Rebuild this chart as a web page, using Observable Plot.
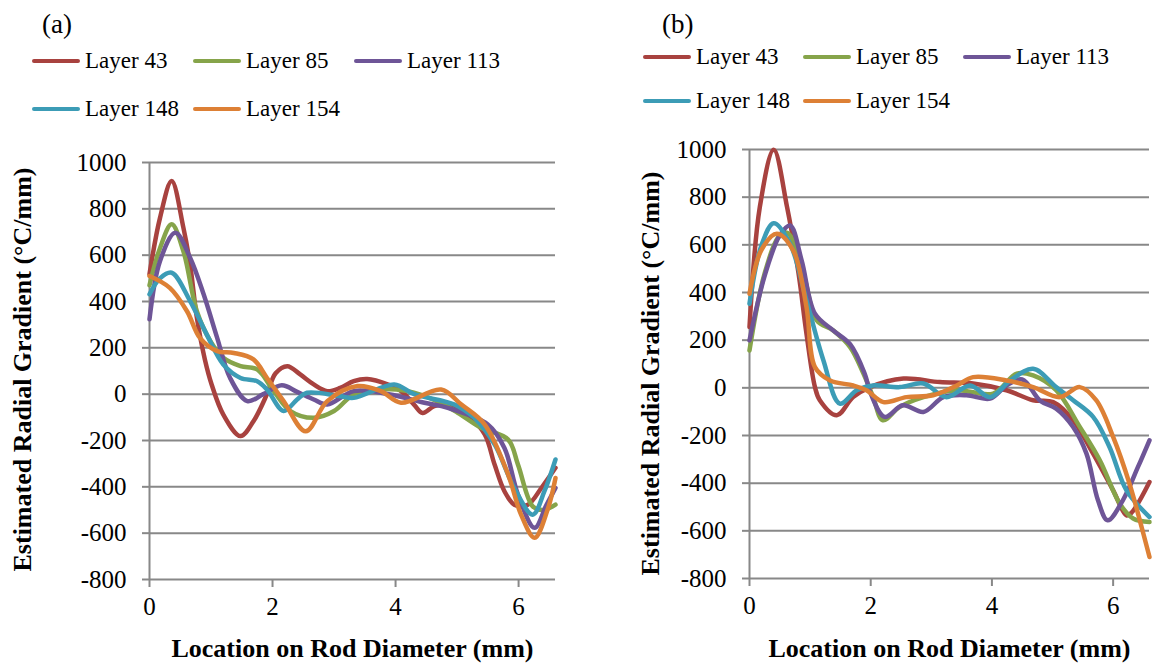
<!DOCTYPE html>
<html><head><meta charset="utf-8">
<script src="https://cdn.jsdelivr.net/npm/d3@7"></script>
<script src="https://cdn.jsdelivr.net/npm/@observablehq/plot@0.6"></script>
<style>
body{margin:0;background:#fff;color:#000;}
#root{position:relative;width:1163px;height:664px;overflow:hidden;background:#fff;}
.tag{position:absolute;font-size:27px;line-height:30px;}
.legend{position:absolute;display:grid;}
.item{display:flex;align-items:center;font-size:23px;line-height:26px;height:26px;white-space:nowrap;}
.sw{width:48px;height:4px;border-radius:2px;margin-right:5px;flex:none;}
.plotwrap{position:absolute;top:130px;}
</style>
</head><body><div id="root"></div>
<script>
const layers = ["Layer 43","Layer 85","Layer 113","Layer 148","Layer 154"];
const colors = ["#A8423F","#86A44A","#6E5597","#3C9CB6","#DD8035"];
const xTicks = [0,2,4,6];
const yTicks = [-800,-600,-400,-200,0,200,400,600,800,1000];
const xTitle = "Location on Rod Diameter (mm)";
const yTitle = "Estimated Radial Gradient (°C/mm)";

// Panel (a): [location mm, gradient °C/mm]
const a43 = [[0,518],[0.17,760],[0.36,920],[0.55,720],[0.66,560],[0.77,330],[0.9,150],[1.01,42],[1.2,-88],[1.48,-181],[1.69,-117],[1.91,0],[2.05,90],[2.24,121],[2.45,85],[2.67,42],[2.89,13],[3.1,27],[3.32,56],[3.54,65],[3.87,42],[4.09,13],[4.3,-45],[4.44,-81],[4.63,-52],[4.9,-45],[5.17,-88],[5.45,-174],[5.61,-304],[5.77,-419],[5.93,-477],[6.15,-477],[6.37,-405],[6.6,-318]];
const a85 = [[0,470],[0.17,630],[0.36,733],[0.55,618],[0.77,358],[0.99,229],[1.2,157],[1.48,121],[1.75,107],[2.02,13],[2.29,-73],[2.67,-102],[3.0,-73],[3.32,0],[3.65,20],[4.2,13],[4.67,-30],[5.01,-80],[5.39,-145],[5.83,-196],[5.99,-304],[6.23,-484],[6.4,-500],[6.6,-477]];
const a113 = [[0,323],[0.17,574],[0.42,697],[0.66,589],[0.88,431],[1.1,243],[1.31,70],[1.59,-30],[1.85,0],[2.15,38],[2.4,10],[2.67,-23],[2.89,-45],[3.32,13],[3.89,0],[4.47,-37],[4.85,-59],[5.5,-131],[5.77,-232],[5.99,-433],[6.26,-577],[6.45,-480],[6.6,-405]];
const a148 = [[0,431],[0.17,500],[0.36,524],[0.66,402],[0.93,258],[1.2,128],[1.48,70],[1.75,56],[1.91,20],[2.18,-73],[2.4,-23],[2.56,6],[3.1,-9],[3.32,-16],[3.98,42],[4.3,0],[4.96,-45],[5.28,-102],[5.61,-217],[5.93,-405],[6.23,-520],[6.42,-419],[6.6,-282]];
const a154 = [[0,510],[0.33,459],[0.61,358],[0.82,243],[1.1,186],[1.37,178],[1.69,150],[1.91,70],[2.18,-30],[2.54,-160],[2.89,-30],[3.38,35],[3.76,13],[4.09,-37],[4.74,20],[5.07,-45],[5.45,-131],[5.83,-347],[6.04,-520],[6.26,-620],[6.48,-491],[6.6,-362]];

// Panel (b)
const b43 = [[0,255],[0.17,758],[0.4,999],[0.62,758],[0.81,479],[0.94,227],[1.08,3],[1.16,-52],[1.44,-115],[1.71,-39],[1.99,3],[2.54,39],[3.14,24],[3.69,18],[4.24,-10],[4.68,-52],[5.01,-60],[5.34,-136],[5.67,-276],[6.0,-430],[6.22,-535],[6.3,-525],[6.6,-395]];
const b85 = [[0,157],[0.25,480],[0.5,640],[0.63,650],[0.89,479],[1.11,283],[1.38,241],[1.66,171],[1.88,60],[2.04,-39],[2.2,-136],[2.48,-80],[2.87,-39],[3.42,-10],[4.02,-24],[4.41,60],[4.68,52],[5.06,-10],[5.45,-164],[5.78,-304],[6.11,-486],[6.33,-548],[6.6,-563]];
const b113 = [[0,199],[0.25,470],[0.5,640],[0.67,681],[0.86,535],[1.08,311],[1.38,241],[1.66,183],[1.9,60],[2.0,-24],[2.23,-122],[2.53,-73],[2.87,-101],[3.2,-39],[3.58,-31],[3.97,-45],[4.24,10],[4.5,35],[4.8,-55],[5.06,-87],[5.34,-164],[5.56,-276],[5.75,-472],[5.91,-556],[6.16,-472],[6.41,-332],[6.6,-220]];
const b148 = [[0,353],[0.2,600],[0.4,691],[0.67,604],[0.94,367],[1.22,115],[1.49,-66],[1.77,-10],[2.04,10],[2.48,3],[2.87,18],[3.25,-39],[3.64,10],[3.97,-39],[4.3,30],[4.68,80],[5.06,3],[5.34,-52],[5.67,-122],[5.94,-248],[6.22,-430],[6.6,-542]];
const b154 = [[0,395],[0.2,580],[0.45,647],[0.72,577],[0.94,339],[1.08,87],[1.33,31],[1.71,10],[1.93,-10],[2.21,-60],[2.59,-39],[3.03,-31],[3.42,10],[3.69,45],[4.24,31],[4.68,3],[5.12,-39],[5.45,3],[5.72,-52],[6.0,-206],[6.27,-402],[6.44,-556],[6.6,-710]];

const gridColor = "#888888";

// pick the first installed serif font
function pickFont(cands){
  const c = document.createElement("canvas").getContext("2d");
  const s = "Layer 1234567890 Estimated Radial Gradient";
  c.font = "40px monospace"; const wm = c.measureText(s).width;
  c.font = "40px sans-serif"; const ws = c.measureText(s).width;
  for (const f of cands){
    c.font = `40px "${f}", monospace`; const a = c.measureText(s).width;
    c.font = `40px "${f}", sans-serif`; const b = c.measureText(s).width;
    if (a !== wm || b !== ws) return f;
  }
  return null;
}
const serifName = pickFont(["Liberation Serif","Times New Roman","Tinos","Times","DejaVu Serif","Noto Serif"]);
const FONT = (serifName ? `"${serifName}", ` : "") + "serif";
document.body.style.fontFamily = FONT;

function toRows(seriesList){
  const rows = [];
  seriesList.forEach((s,i)=>s.forEach(([x,v])=>rows.push({layer:layers[i],x,v})));
  return rows;
}

function makePanel(seriesList, cfg){
  const rows = toRows(seriesList);
  return Plot.plot({
    width: cfg.width, height: 534,
    marginLeft: cfg.ml, marginRight: cfg.mr, marginTop: cfg.mt, marginBottom: cfg.mb,
    style:{fontFamily:FONT, fontSize:"25px", color:"#000", background:"transparent", overflow:"visible"},
    x:{domain:[0,6.6]},
    y:{domain:[-800,1000]},
    color:{domain:layers, range:colors},
    marks:[
      Plot.ruleY(yTicks, {stroke:gridColor, strokeWidth:2}),
      Plot.ruleX([0], {stroke:gridColor, strokeWidth:2}),
      Plot.axisY({ticks:yTicks, tickSize:7, tickPadding:16, stroke:gridColor, strokeWidth:2, fill:"#000", fontSize:25, label:null, tickFormat:d=>String(d)}),
      Plot.axisX({ticks:xTicks, tickSize:8, tickPadding:10, stroke:gridColor, strokeWidth:2, fill:"#000", fontSize:25, label:null, tickFormat:d=>String(d)}),
      Plot.line(rows, {x:"x", y:"v", z:"layer", stroke:"layer", strokeWidth:4.5, curve:"catmull-rom", strokeLinejoin:"round", strokeLinecap:"round"}),
      Plot.text([yTitle], {frameAnchor:"left", rotate:-90, dx:cfg.ydx, dy:cfg.ydy, textAnchor:"middle", lineAnchor:"middle", fontWeight:"bold", fontSize:26}),
      Plot.text([xTitle], {frameAnchor:"bottom", dy:cfg.xdy, textAnchor:"middle", lineAnchor:"middle", fontWeight:"bold", fontSize:26})
    ]
  });
}

function makeLegend(root, cfg){
  const tag = document.createElement("div");
  tag.className="tag"; tag.textContent = cfg.tag;
  tag.style.left = cfg.tagLeft+"px"; tag.style.top = cfg.tagTop+"px";
  root.appendChild(tag);
  const lg = document.createElement("div");
  lg.className = "legend";
  lg.style.left = cfg.left+"px"; lg.style.top = cfg.top+"px";
  lg.style.gridTemplateColumns = `repeat(3, ${cfg.col}px)`;
  lg.style.rowGap = cfg.rowGap+"px";
  layers.forEach((name,i)=>{
    const it = document.createElement("div"); it.className="item";
    const sw = document.createElement("span"); sw.className="sw"; sw.style.background = colors[i];
    const tx = document.createElement("span"); tx.textContent = name;
    it.appendChild(sw); it.appendChild(tx); lg.appendChild(it);
  });
  root.appendChild(lg);
}

const root = document.getElementById("root");

const wa = document.createElement("div"); wa.className="plotwrap"; wa.style.left="0px";
wa.appendChild(makePanel([a43,a85,a113,a148,a154], {width:580, ml:149, mr:25, mt:32, mb:85, ydx:-127, ydy:-1.5, xdy:69}));
root.appendChild(wa);

const wb = document.createElement("div"); wb.className="plotwrap"; wb.style.left="580px";
wb.appendChild(makePanel([b43,b85,b113,b148,b154], {width:583, ml:169, mr:14, mt:19, mb:86, ydx:-99, ydy:9.5, xdy:70}));
root.appendChild(wb);

makeLegend(root, {tag:"(a)", tagLeft:42, tagTop:9, left:32, top:48, col:161, rowGap:22});
makeLegend(root, {tag:"(b)", tagLeft:662, tagTop:9, left:643, top:44, col:160, rowGap:18});
</script>
</body></html>
